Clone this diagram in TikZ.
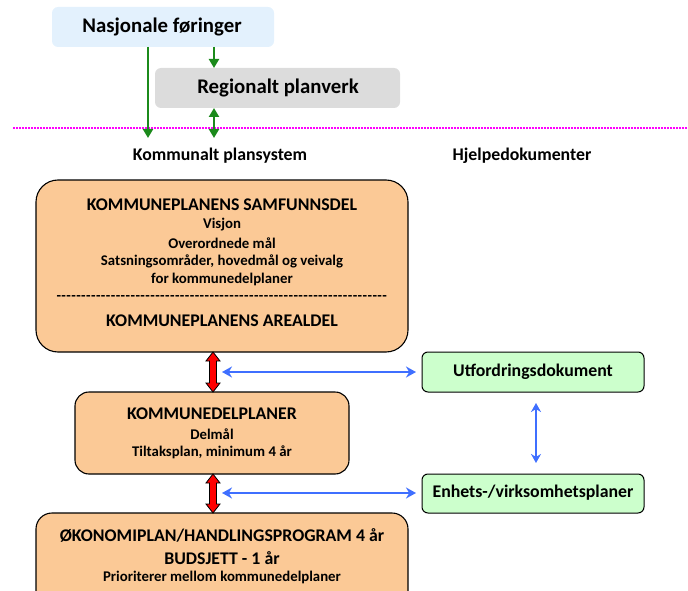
\documentclass[tikz,border=0pt]{standalone}
\usepackage{fontspec}
\setmainfont{Carlito}
\usetikzlibrary{arrows.meta,fit,calc}
\definecolor{peach}{HTML}{FBC996}
\definecolor{lgreen}{HTML}{CCFFCC}
\definecolor{lblue}{HTML}{E3F1FD}
\definecolor{lgray}{HTML}{DCDCDC}
\definecolor{dgreen}{HTML}{1B8A1B}
\definecolor{barrow}{HTML}{3F6FFF}
\definecolor{magline}{HTML}{FF00FF}
\tikzset{
  topbox/.style={rounded corners=6pt, inner sep=0pt, draw=none},
  kbox/.style={draw=black, line width=1.1pt, fill=peach, inner sep=0pt},
  gbox/.style={draw=black, line width=1pt, fill=lgreen, inner sep=0pt, rounded corners=6pt},
  big/.style={font=\bfseries\fontsize{20.8}{24}\selectfont},
  head/.style={font=\bfseries\fontsize{17.8}{20}\selectfont},
  sub/.style={font=\bfseries\fontsize{14.8}{17}\selectfont},
  lab/.style={font=\bfseries\fontsize{17.8}{20}\selectfont},
  garrow/.style={draw=dgreen, line width=2.8pt, -{Triangle[length=9pt,width=10pt]}},
  gdarrow/.style={draw=dgreen, line width=2.8pt, {Triangle[length=9pt,width=10pt]}-{Triangle[length=9pt,width=10pt]}},
  barr/.style={draw=barrow, line width=2.8pt, {Stealth[length=10pt,width=11pt]}-{Stealth[length=10pt,width=11pt]}},
  barrthin/.style={draw=barrow, line width=2.1pt, {Stealth[length=9pt,width=10pt]}-{Stealth[length=9pt,width=10pt]}},
  rarrow/.style={draw=black, line width=0.8pt, fill=red, line join=miter}
}
\newcommand\redblock[2]{%
  \draw[rarrow] (#1) -- ++(7,9) -- ++(-3.5,0) -- ($(#2)+(3.5,-9)$) -- ++(3.5,0) -- (#2)
    -- ++(-7,-9) -- ++(3.5,0) -- ($(#1)+(-3.5,9)$) -- ++(-3.5,0) -- cycle;}
\begin{document}
\begin{tikzpicture}[x=1pt,y=-1pt]
\useasboundingbox (0,0) rectangle (688,591);
\clip (0,0) rectangle (688,591);
% top boxes
\node[topbox, fill=lblue, fit={(52,7) (274,47)}] (nas) {};
\node[big] (nast) at (162,27) {Nasjonale føringer};
\node[topbox, fill=lgray, fit={(155,68) (400,108)}] (reg) {};
\node[big] (regt) at (278,88) {Regionalt planverk};
% dotted line
\coordinate (dl) at (13,128);
\coordinate (dr) at (688,128);
\draw[magline, line width=2.8pt, dash pattern=on 1.8pt off 1.2pt] (dl) -- (dr);
% green arrows
\coordinate (g1s) at (148,47);
\coordinate (g1e) at (148,138);
\draw[garrow] (g1s) -- (g1e);
\coordinate (g2s) at (214,47);
\draw[garrow] (g2s) -- (214,68);
\coordinate (g3e) at (214,138);
\draw[gdarrow] (214,108) -- (g3e);
% labels
\node[lab] (lk) at (220,156) {Kommunalt plansystem};
\node[lab] (lh) at (522,156) {Hjelpedokumenter};
% box 1
\node[kbox, rounded corners=22pt, fit={(36,180) (408,352)}] (kps) {};
\node[head] (k1) at (222,205) {KOMMUNEPLANENS SAMFUNNSDEL};
\node[sub] (k2) at (222,225) {Visjon};
\node[sub] (k3) at (222,243) {Overordnede mål};
\node[sub] (k4) at (222,261) {Satsningsområder, hovedmål og veivalg};
\node[sub] (k5) at (222,279) {for kommunedelplaner};
\node[sub, inner sep=0pt] (k6) at (222,298) {\hbox to 331pt{\xleaders\hbox{-\kern0.4pt}\hfil}};
\node[head] (k7) at (222,321) {KOMMUNEPLANENS AREALDEL};
% box 2
\node[kbox, rounded corners=14pt, fit={(75,392) (349,474)}] (kdp) {};
\node[head] (d1) at (212,414) {KOMMUNEDELPLANER};
\node[sub] (d2) at (212,434) {Delmål};
\node[sub] (d3) at (212,452) {Tiltaksplan, minimum 4 år};
% box 3
\node[kbox, rounded corners=16pt, fit={(36,513) (408,620)}] (oko) {};
\node[head] (o1) at (222,535) {ØKONOMIPLAN/HANDLINGSPROGRAM 4 år};
\node[head] (o2) at (222,558) {BUDSJETT - 1 år};
\node[sub] (o3) at (222,577) {Prioriterer mellom kommunedelplaner};
% green boxes
\node[gbox, fit={(422,352) (644,392)}] (utf) {};
\node[lab] (ut) at (533,372) {Utfordringsdokument};
\node[gbox, fit={(422,474) (644,513)}] (enh) {};
\node[lab] (et) at (533,493) {Enhets-/virksomhetsplaner};
% red block arrows
\coordinate (r1a) at (213,352);
\coordinate (r1b) at (213,392);
\redblock{r1a}{r1b}
\coordinate (r2a) at (213,474);
\coordinate (r2b) at (213,513);
\redblock{r2a}{r2b}
% blue arrows
\coordinate (b1a) at (222,372);
\coordinate (b1b) at (416,372);
\draw[barr] (b1a) -- (b1b);
\coordinate (b2a) at (222,493);
\coordinate (b2b) at (416,493);
\draw[barr] (b2a) -- (b2b);
\coordinate (b3a) at (536,403);
\coordinate (b3b) at (536,463);
\draw[barrthin] (b3a) -- (b3b);
\end{tikzpicture}
\end{document}
